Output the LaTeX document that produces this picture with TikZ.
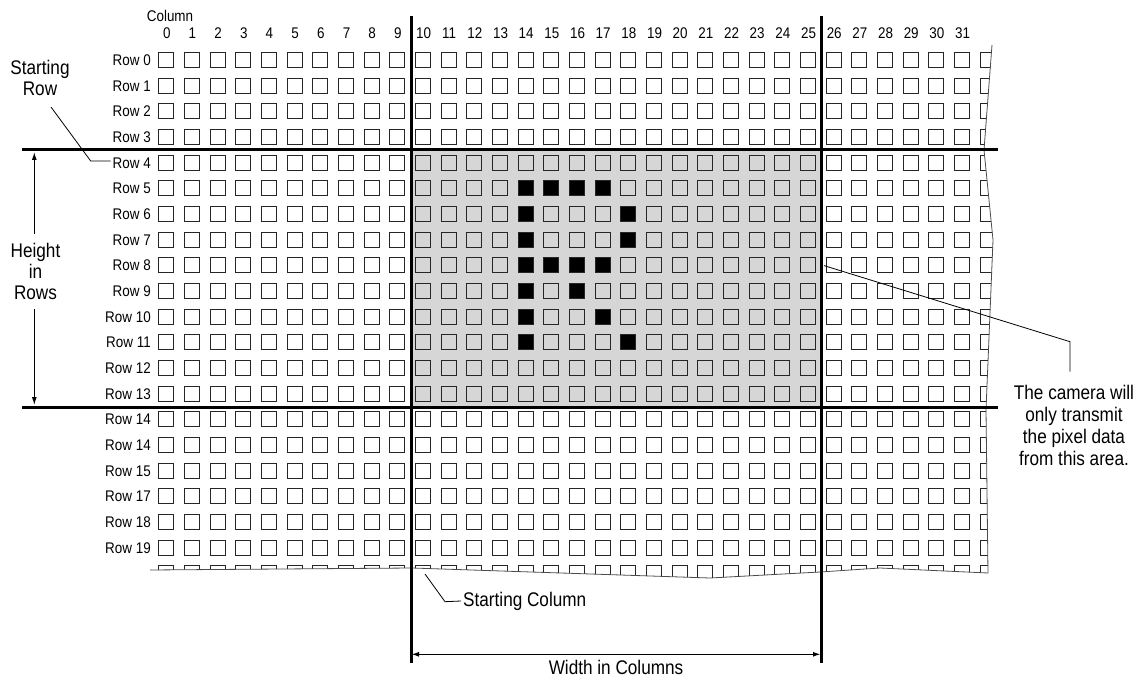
\documentclass[tikz,border=0pt]{standalone}
\usepackage{fontspec}
\setmainfont{Liberation Sans}[FakeStretch=0.87]
\usetikzlibrary{arrows.meta}
\definecolor{areagray}{RGB}{214,214,214}
\begin{document}
\begin{tikzpicture}[x=1bp,y=-1bp,
  cell/.style={draw=black!85, line width=1.4bp},
  onpix/.style={cell, fill=black},
  edgeline/.style={draw=black!70, line width=0.8bp},
  bigline/.style={line width=3bp, black},
  smalltext/.style={font=\fontsize{15.5}{18}\selectfont, inner sep=2bp},
  bigtext/.style={font=\fontsize{19.8}{21.5}\selectfont, inner sep=2bp, align=center},
  leader/.style={line width=0.8bp, black},
  dimarrow/.style={line width=1.1bp, black, -{Latex[length=8bp,width=5bp]}},
  widtharrow/.style={line width=1.6bp, black, {Latex[length=8bp,width=5bp]}-{Latex[length=8bp,width=5bp]}}
]
\useasboundingbox (0,0) rectangle (1144,678);

% ---- pixel grid (clipped by torn edges) ----
\begin{scope}
  \clip (140,40) -- (992,45) -- (984,150) -- (993,240) -- (986,410) -- (988,573)
        -- (880,568) -- (820,572) -- (710,578) -- (412,568) -- (150,570) -- (140,570) -- cycle;
  \fill[areagray] (411,150) rectangle (821,407);
  \foreach \c in {0,...,32} {
    \foreach \r in {0,...,20} {
      \draw[cell] ({round(158.3+25.67*\c)+0.5},{round(52+25.67*\r)+0.5}) rectangle +(15,15);
    }
  }
  \foreach \c/\r in {14/5,15/5,16/5,17/5,14/6,18/6,14/7,18/7,14/8,15/8,16/8,17/8,14/9,16/9,14/10,17/10,14/11,18/11} {
    \draw[onpix] ({round(158.3+25.67*\c)+0.5},{round(52+25.67*\r)+0.5}) rectangle +(15,15);
  }
\end{scope}
\draw[edgeline] (992,45) -- (984,150) -- (993,240) -- (986,410) -- (988,573);
\draw[edgeline] (988,573) -- (880,568) -- (820,572) -- (710,578) -- (412,568) -- (150,570);

% ---- labels ----
\node[smalltext] (colhdr) at (170,16) {Column};
\foreach \c in {0,...,31} {
  \node[smalltext, anchor=base] (cn\c) at ({166.8+25.67*\c},38.5) {\c};
}
\foreach \t [count=\i from 0] in {Row 0,Row 1,Row 2,Row 3,Row 4,Row 5,Row 6,Row 7,Row 8,Row 9,Row 10,Row 11,Row 12,Row 13,Row 14,Row 14,Row 15,Row 17,Row 18,Row 19} {
  \node[smalltext, anchor=base east] (rl\i) at (153,{65.5+25.67*\i}) {\t};
}

% ---- thick boundary lines ----
\coordinate (vlt) at (411,16);   \coordinate (vlb) at (411,663);
\coordinate (vrt) at (821,16);   \coordinate (vrb) at (821,663);
\coordinate (hul) at (22,150);   \coordinate (hur) at (998,150);
\coordinate (hll) at (22,407);   \coordinate (hlr) at (998,407);
\draw[bigline] (hul) -- (hur);
\draw[bigline] (hll) -- (hlr);
\draw[bigline] (vlt) -- (vlb);
\draw[bigline] (vrt) -- (vrb);

% ---- Starting Row ----
\node[bigtext] (sr) at (40,78) {Starting\\Row};
\coordinate (srl) at (51,107);
\draw[leader] (srl) -- (90.7,161) -- (rl4.west |- 0,161);

% ---- Height in Rows ----
\node[bigtext, inner ysep=9bp] (hr) at (35.5,271.5) {Height\\in\\Rows};
\coordinate (ht) at (34.3,152);
\coordinate (hb) at (34.3,405);
\draw[dimarrow] (hr.north -| ht) -- (ht);
\draw[dimarrow] (hr.south -| hb) -- (hb);

% ---- Starting Column ----
\node[bigtext, anchor=west] (sc) at (461,601) {Starting Column};
\coordinate (scl) at (425,574);
\draw[leader] (scl) -- (445,601.7) -- (sc.west);

% ---- Width in Columns ----
\coordinate (wl) at (411,654.3);
\coordinate (wr) at (821,654.3);
\draw[widtharrow] (wl) -- (wr);
\node[bigtext] (wc) at (616,667.5) {Width in Columns};

% ---- camera note ----
\node[bigtext, font=\fontsize{19.8}{22.3}\selectfont, inner xsep=2bp, inner ysep=13bp] (cam) at (1074,425.5) {The camera will\\only transmit\\the pixel data\\from this area.};
\coordinate (p8) at (824,265.6);
\coordinate (kink) at (1070,341.7);
\draw[leader] (p8) -- (kink) -- (kink |- cam.north);
\end{tikzpicture}
\end{document}
